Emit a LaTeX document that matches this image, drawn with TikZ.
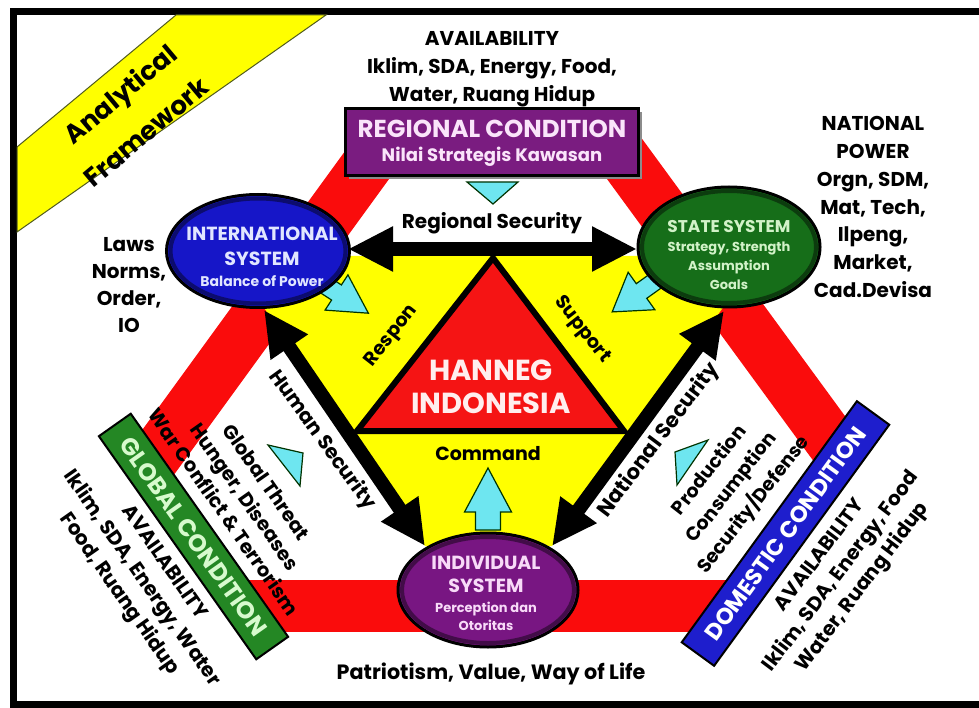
\documentclass[tikz,border=0pt]{standalone}
\usepackage{fontspec}
\setmainfont{Poppins}
\usetikzlibrary{arrows.meta,shapes.geometric}
\definecolor{bandred}{RGB}{250,12,12}
\definecolor{hexyellow}{RGB}{255,255,0}
\definecolor{tired}{RGB}{245,20,20}
\definecolor{intblue}{RGB}{22,22,200}
\definecolor{stgreen}{RGB}{22,110,25}
\definecolor{indpurple}{RGB}{120,22,130}
\definecolor{regpurple}{RGB}{122,28,128}
\definecolor{globgreen}{RGB}{36,135,36}
\definecolor{domblue}{RGB}{30,30,205}
\definecolor{cyanfill}{RGB}{110,230,240}
\definecolor{bannerline}{RGB}{80,90,30}
\definecolor{inttext}{RGB}{225,230,255}
\definecolor{sttext}{RGB}{210,242,200}
\definecolor{indtext}{RGB}{248,218,248}
\definecolor{regtext}{RGB}{250,228,250}
\definecolor{globtext}{RGB}{215,250,205}
\definecolor{hantext}{RGB}{255,238,238}
\newcommand\cyanarr[7]{%
  \draw[cyanarrow, shift={(#1,#2)}, rotate=#3] (-#4,-#5) -- (0,-#5) -- (0,-#7) -- (#6,0) -- (0,#7) -- (0,#5) -- (-#4,#5) -- cycle;}
\tikzset{
  fz/.style 2 args={font=\fontsize{#1}{#2}\bfseries},
  cyanarrow/.style={fill=cyanfill, draw=black!80!green, line width=1.2, line join=miter},
  blk/.style={line width=14, draw=black,
    arrows={Triangle[length=45pt,width=42pt]-Triangle[length=45pt,width=42pt]}},
  band/.style={draw=bandred, line width=52},
  ell/.style={ellipse, inner sep=0, draw=black, line width=3},
  rim/.style={line width=4, draw=#1},
  lbl/.style={align=center, inner sep=0, text=black}
}
\begin{document}
\begin{tikzpicture}[x=1pt,y=-1pt]
\useasboundingbox (0,0) rectangle (979,708);
\fill[white] (0,0) rectangle (979,708);
% frame
\fill[black] (10,8) rectangle (979,15);
\fill[black] (10,8) rectangle (17,708);
\fill[black] (10,701) rectangle (979,708);
% banner
\filldraw[fill=hexyellow, draw=bannerline, line width=1] (17,147) -- (176,15) -- (326,15) -- (17,232) -- cycle;
\node[lbl, fz={26}{30}, rotate=40] (ana) at (122,96) {Analytical};
\node[lbl, fz={26}{30}, rotate=40] (fra) at (146,132) {Framework};
% red hexagon bands
\draw[band, line join=miter] (146,469) -- (378,150) -- (618,150) -- (842,456);
\draw[band] (242,606) -- (733,606);
% yellow region
\fill[hexyellow] (229,256) -- (760,256) -- (552,546) -- (425,546) -- cycle;
% central triangle
\filldraw[fill=tired, draw=black, line width=6, line join=miter] (493,258) -- (357,431) -- (624,431) -- cycle;
% black arrows
\coordinate (rsL) at (348,249);
\coordinate (rsR) at (637,249);
\coordinate (hsT) at (264,310);
\coordinate (hsB) at (425,546);
\coordinate (nsT) at (724,311);
\coordinate (nsB) at (552,546);
\draw[blk] (rsL) -- (rsR);
\draw[blk] (hsT) -- (hsB);
\draw[blk] (nsT) -- (nsB);
% cyan arrows
\cyanarr{336.5}{292.5}{-33}{30}{9}{38}{21}
\cyanarr{641.5}{291}{-144.5}{30}{9}{36}{23}
\cyanarr{488}{512}{90}{18}{12.5}{44}{23.5}
\filldraw[cyanarrow] (467,182) -- (518,182) -- (493,204) -- cycle;
\filldraw[cyanarrow] (268,445) -- (303,453) -- (300,486) -- cycle;
\filldraw[cyanarrow] (708,440) -- (675,452) -- (677,485) -- cycle;
% ellipses
\node[ell, fill=intblue, minimum width=183, minimum height=113] (intl) at (258,251) {};
\draw[rim=intblue!55!black] (intl.center) ellipse [x radius=87.5, y radius=52.5];
\node[ell, fill=stgreen, minimum width=182, minimum height=120] (state) at (729,247) {};
\draw[rim=stgreen!55!black] (state.center) ellipse [x radius=87, y radius=56];
\node[ell, fill=indpurple, minimum width=180, minimum height=114] (indiv) at (488,590) {};
\draw[rim=indpurple!55!black] (indiv.center) ellipse [x radius=86, y radius=53];
% boxes
\fill[black!45] (349,112) rectangle (642,179);
\node[draw=black, line width=2.5, fill=regpurple, minimum width=293, minimum height=67, inner sep=0] (reg) at (492,142) {};
\node[text=regtext, fz={24.5}{28}, inner sep=0] (regt) at (492,129) {REGIONAL CONDITION};
\node[text=regtext, fz={18}{20}, inner sep=0] (regs) at (492,157) {Nilai Strategis Kawasan};
\node[draw=black, line width=2, fill=globgreen, minimum width=273, minimum height=39, inner sep=0, rotate=-54.8, text=globtext, fz={24}{26}] (glob) at (193.5,536.5) {GLOBAL CONDITION};
\node[draw=black, line width=2, fill=domblue, minimum width=298, minimum height=40, inner sep=0, rotate=54, text=white, fz={23}{26}] (dom) at (785.5,533.5) {DOMESTIC CONDITION};
% ellipse texts
\node[lbl, text=inttext, fz={19}{25}] (intt) at (262,246) {INTERNATIONAL\\SYSTEM};
\node[lbl, text=inttext, fz={14}{16}] (ints) at (262,281) {Balance of Power};
\node[lbl, text=sttext, fz={17}{20}] (stt) at (729,227) {STATE SYSTEM};
\node[lbl, text=sttext, fz={13}{19}] (sts) at (729,266) {Strategy, Strength\\Assumption\\Goals};
\node[lbl, text=indtext, fz={19}{23}] (indt) at (486,574) {INDIVIDUAL\\SYSTEM};
\node[lbl, text=indtext, fz={13}{18}] (inds) at (486,616) {Perception dan\\Otoritas};
\node[lbl, text=hantext, fz={29}{33}] (han) at (491,387) {HANNEG\\INDONESIA};
% outside texts
\node[lbl, fz={20}{28}] (avtop) at (492,69) {AVAILABILITY\\Iklim, SDA, Energy, Food,\\Water, Ruang Hidup};
\node[lbl, fz={20}{27.8}] (natp) at (873,207) {NATIONAL\\POWER\\Orgn, SDM,\\Mat, Tech,\\Ilpeng,\\Market,\\Cad.Devisa};
\node[lbl, fz={20}{27.3}] (laws) at (129,285) {Laws\\Norms,\\Order,\\IO};
\node[lbl, fz={20}{22}] (rsec) at (492,223) {Regional Security};
\node[lbl, fz={19}{22}, rotate=52] (resp) at (392,336) {Respon};
\node[lbl, fz={19}{22}, rotate=-52] (supp) at (582,330) {Support};
\node[lbl, fz={19}{22}] (comm) at (488,454) {Command};
\node[lbl, fz={20}{22}, rotate=-54] (hsec) at (322,440) {Human Security};
\node[lbl, fz={19.5}{26}, rotate=-55] (gthr) at (245,497) {Global Threat\\Hunger, Diseases\\War Conflict \& Terrorism};
\node[lbl, fz={20}{27.5}, rotate=-55] (avl) at (141,579) {AVAILABILITY\\Iklim, SDA, Energy, Water\\Food, Ruang Hidup};
\node[lbl, fz={21}{24}, rotate=53] (nsec) at (659,440) {National Security};
\node[lbl, fz={19}{28}, rotate=52] (prod) at (732,488) {Production\\Consumption\\Security/Defense};
\node[lbl, fz={20}{26.5}, rotate=53] (avr) at (842,572) {AVAILABILITY\\Iklim, SDA, Energy, Food\\Water, Ruang Hidup};
\node[lbl, fz={20.7}{24}] (patr) at (491,674) {Patriotism, Value, Way of Life};
\end{tikzpicture}
\end{document}
